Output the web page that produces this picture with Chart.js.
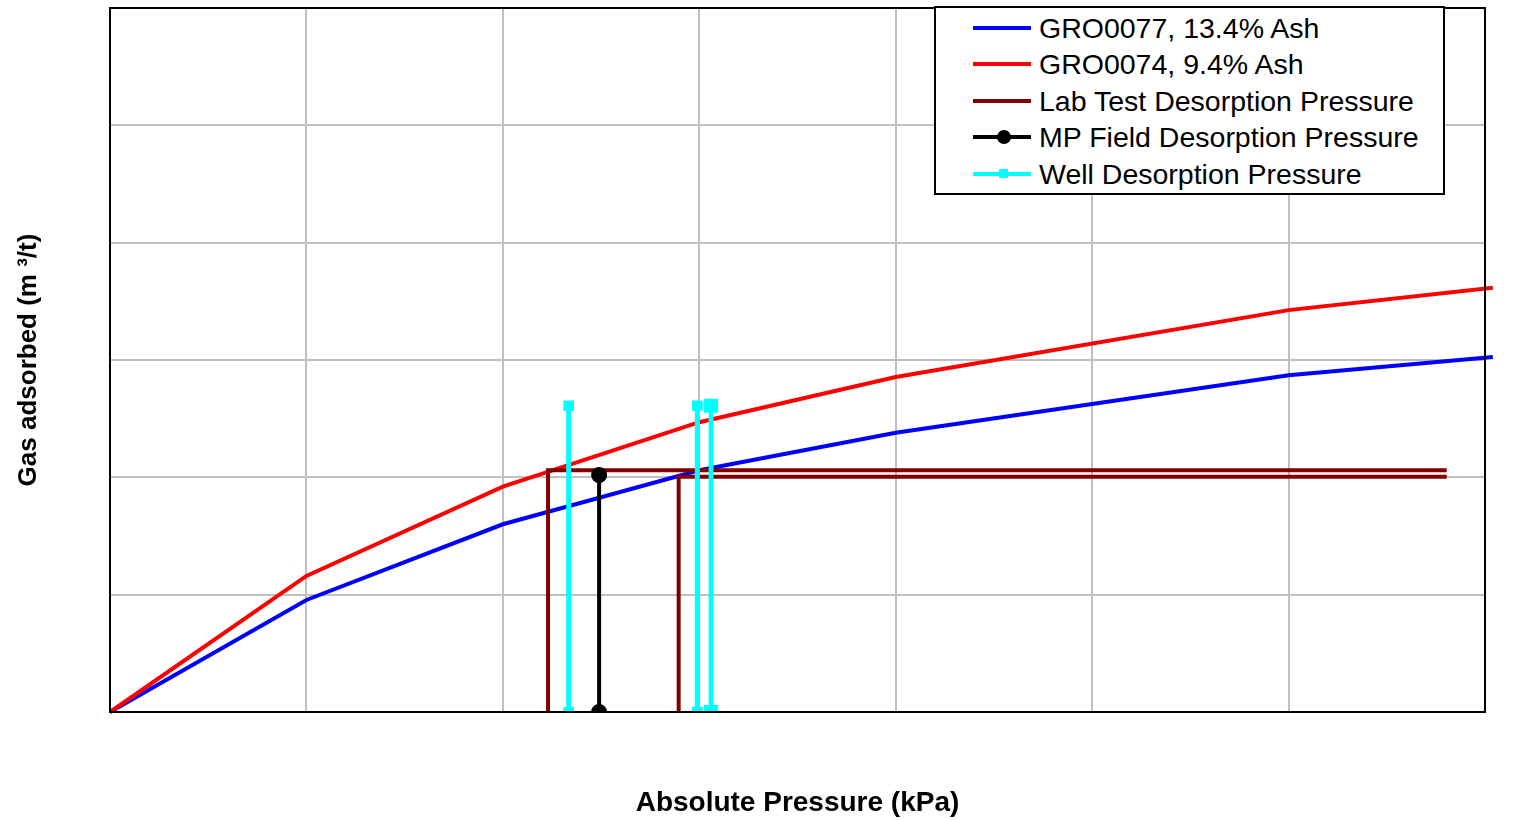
<!DOCTYPE html>
<html>
<head>
<meta charset="utf-8">
<script src="https://cdn.jsdelivr.net/npm/chart.js@4.4.1/dist/chart.umd.min.js"></script>
<style>
  body { margin: 0; background: #fff; }
  #wrap { position: relative; width: 1523px; height: 820px; }
  #legend {
    position: absolute; left: 934px; top: 6px; width: 511px; height: 189px;
    box-sizing: border-box; border: 2px solid #000; background: #fff;
    font-family: "Liberation Sans", Arial, sans-serif; font-size: 28.5px; color: #000;
    padding-top: 2px;
  }
  .row { position: relative; height: 36.4px; line-height: 36.4px; padding-left: 103px; white-space: nowrap; }
  .sample { position: absolute; left: 37px; top: 16px; width: 58px; height: 4px; }
  .mark { position: absolute; left: 23px; }
</style>
</head>
<body>
<div id="wrap">
  <canvas id="mycan1" width="1523" height="820"></canvas>
  <div id="legend"></div>
</div>
<script>
// isotherm curves
var pressureKpa = [0, 200, 400, 600, 800, 1200, 1408];
var gro0077 = [0, 1.91, 3.2, 4.12, 4.76, 5.74, 6.05];
var gro0074 = [0, 2.32, 3.84, 4.94, 5.71, 6.85, 7.23];

// lab test desorption pressure (two step lines)
var labA_x = [446, 446, 1361];
var labA_y = [0, 4.12, 4.12];
var labB_x = [579, 579, 1361];
var labB_y = [0, 4.01, 4.01];

// MP field desorption pressure
var mp_x = [498, 498];
var mp_y = [0, 4.04];

// well desorption pressure
var wellA_x = [467, 467];
var wellB_x = [598, 598];
var wellC_x = [612, 612];
var well_y = [0, 5.22];

var xTicks = [0, 200, 400, 600, 800, 1000, 1200, 1400];
var yTicks = [0, 2, 4, 6, 8, 10, 12];

function pts(xs, ys) {
  var out = [];
  for (var i in xs) out.push({x: xs[i], y: ys[i]});
  return out;
}

var legendItems = [
  {label: 'GRO0077, 13.4% Ash', color: '#0000ff', mark: null},
  {label: 'GRO0074, 9.4% Ash', color: '#ff0000', mark: null},
  {label: 'Lab Test Desorption Pressure', color: '#800000', mark: null},
  {label: 'MP Field Desorption Pressure', color: '#000000', mark: 'circle'},
  {label: 'Well Desorption Pressure', color: '#00ffff', mark: 'rect'}
];

var chartdata = {
  datasets: [
    {label: 'GRO0077, 13.4% Ash', data: pts(pressureKpa, gro0077), borderColor: '#0000ff', borderWidth: 4, pointRadius: 0, clip: false, order: 5},
    {label: 'GRO0074, 9.4% Ash', data: pts(pressureKpa, gro0074), borderColor: '#ff0000', borderWidth: 4, pointRadius: 0, clip: false, order: 4},
    {label: 'Lab Test Desorption Pressure', data: pts(labA_x, labA_y), borderColor: '#800000', borderWidth: 4, pointRadius: 0, order: 3},
    {label: 'Lab Test Desorption Pressure', data: pts(labB_x, labB_y), borderColor: '#800000', borderWidth: 4, pointRadius: 0, order: 3},
    {label: 'MP Field Desorption Pressure', data: pts(mp_x, mp_y), borderColor: '#000000', backgroundColor: '#000000', borderWidth: 4, pointRadius: 6, pointStyle: 'circle', order: 2},
    {label: 'Well Desorption Pressure', data: pts(wellA_x, well_y), borderColor: '#00ffff', backgroundColor: '#00ffff', borderWidth: 5, pointRadius: 4, pointStyle: 'rect', order: 1},
    {label: 'Well Desorption Pressure', data: pts(wellB_x, well_y), borderColor: '#00ffff', backgroundColor: '#00ffff', borderWidth: 5, pointRadius: 4, pointStyle: 'rect', order: 1},
    {label: 'Well Desorption Pressure', data: pts(wellC_x, well_y), borderColor: '#00ffff', backgroundColor: '#00ffff', borderWidth: 5, pointRadius: 6.5, pointStyle: 'rect', order: 1}
  ]
};

// black frame around the plot area
var framePlugin = {
  id: 'frame',
  afterDatasetsDraw: function(chart) {
    var a = chart.chartArea, c = chart.ctx;
    c.save();
    c.strokeStyle = '#000';
    c.lineWidth = 2;
    c.strokeRect(a.left, a.top, a.right - a.left, a.bottom - a.top);
    c.restore();
  }
};

Chart.defaults.font.family = '"Liberation Sans", Arial, sans-serif';
Chart.defaults.color = '#000';

var ctx = document.getElementById('mycan1');
var chart = new Chart(ctx, {
  type: 'line',
  data: chartdata,
  plugins: [framePlugin],
  options: {
    responsive: false,
    animation: false,
    layout: {autoPadding: false, padding: {left: 0, top: 8, right: 38, bottom: 0}},
    plugins: {legend: {display: false}, tooltip: {enabled: false}},
    elements: {line: {tension: 0}},
    scales: {
      x: {
        type: 'linear', min: 0, max: 1400,
        afterBuildTicks: function(s) { s.ticks = xTicks.map(function(v) { return {value: v}; }); },
        afterFit: function(s) { s.height = 108; },
        ticks: {display: false},
        grid: {color: '#c0c0c0', lineWidth: 2, drawTicks: false},
        border: {color: '#000', width: 2},
        title: {display: true, text: 'Absolute Pressure (kPa)', font: {size: 28, weight: 'bold'}, padding: {top: 2, bottom: 0}}
      },
      y: {
        type: 'linear', min: 0, max: 12,
        afterBuildTicks: function(s) { s.ticks = yTicks.map(function(v) { return {value: v}; }); },
        afterFit: function(s) { s.width = 110; },
        ticks: {display: false},
        grid: {color: '#c0c0c0', lineWidth: 2, drawTicks: false},
        border: {color: '#000', width: 2},
        title: {display: true, text: 'Gas adsorbed (m ³/t)', font: {size: 26, weight: 'bold'}, padding: {top: 13, bottom: 0}}
      }
    }
  }
});

// html legend
var lg = document.getElementById('legend');
legendItems.forEach(function(it) {
  var row = document.createElement('div');
  row.className = 'row';
  var s = document.createElement('div');
  s.className = 'sample';
  s.style.background = it.color;
  if (it.mark) {
    var m = document.createElement('div');
    m.className = 'mark';
    if (it.mark === 'circle') {
      m.style.cssText = 'left:24px;top:-5px;width:14px;height:14px;border-radius:7px;background:' + it.color;
    } else {
      m.style.cssText = 'left:26px;top:-3px;width:9px;height:9px;background:' + it.color;
    }
    s.appendChild(m);
  }
  row.appendChild(s);
  row.appendChild(document.createTextNode(it.label));
  lg.appendChild(row);
});
</script>
</body>
</html>
